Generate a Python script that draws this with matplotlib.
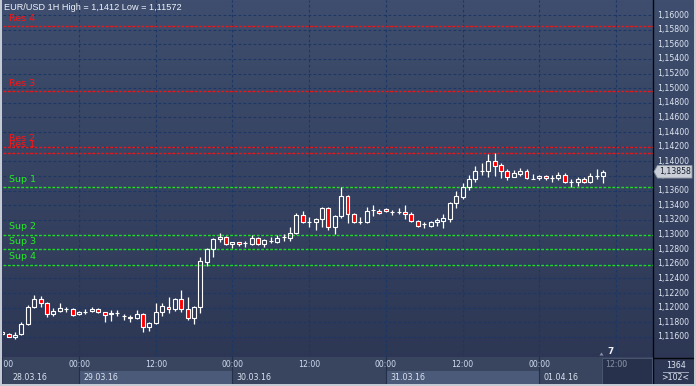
import numpy as np
import matplotlib
matplotlib.use("Agg")
import matplotlib.pyplot as plt
from matplotlib.colors import LinearSegmentedColormap
from matplotlib.patches import Rectangle, Polygon

# ---------------- data ----------------
hours = list(range(-12, 83))  # hours relative to 29.03.16 00:00
opens = [1.11673, 1.11641, 1.11595, 1.11636, 1.11773, 1.12014, 1.12119, 1.12060, 1.11910, 1.11955,
         1.11983, 1.11978, 1.11910, 1.11946, 1.11960, 1.11978, 1.11937, 1.11910, 1.11932, 1.11891,
         1.11878, 1.11864, 1.11910, 1.11732, 1.11787, 1.11946, 1.12014, 1.11978, 1.12115, 1.11978,
         1.11855, 1.12005, 1.12629, 1.12798, 1.12935, 1.12962, 1.12871, 1.12894, 1.12880, 1.12866,
         1.12948, 1.12866, 1.12916, 1.12903, 1.12962, 1.12948, 1.13017, 1.13267, 1.13176, 1.13176,
         1.13208, 1.13358, 1.13098, 1.13253, 1.13527, 1.13281, 1.13176, 1.13176, 1.13335, 1.13326,
         1.13344, 1.13313, 1.13304, 1.13304, 1.13276, 1.13190, 1.13140, 1.13121, 1.13167, 1.13190,
         1.13212, 1.13426, 1.13518, 1.13645, 1.13754, 1.13873, 1.13873, 1.14005, 1.13950, 1.13873,
         1.13791, 1.13827, 1.13868, 1.13759, 1.13768, 1.13800, 1.13777, 1.13768, 1.13814, 1.13723,
         1.13713, 1.13754, 1.13723, 1.13805, 1.13800]
highs = [1.11696, 1.11659, 1.11673, 1.11809, 1.12037, 1.12174, 1.12160, 1.12083, 1.11992, 1.12069,
         1.12014, 1.11992, 1.11960, 1.11978, 1.12005, 1.11996, 1.11946, 1.11969, 1.11969, 1.11910,
         1.11901, 1.11969, 1.11923, 1.11809, 1.12069, 1.12060, 1.12151, 1.12128, 1.12242, 1.12142,
         1.12023, 1.12689, 1.12812, 1.12948, 1.13017, 1.12980, 1.12903, 1.12903, 1.12912, 1.12994,
         1.12962, 1.12939, 1.12962, 1.12994, 1.13003, 1.13108, 1.13299, 1.13322, 1.13244, 1.13221,
         1.13372, 1.13381, 1.13267, 1.13645, 1.13540, 1.13299, 1.13235, 1.13381, 1.13404, 1.13344,
         1.13358, 1.13335, 1.13358, 1.13404, 1.13304, 1.13199, 1.13171, 1.13190, 1.13231, 1.13281,
         1.13449, 1.13600, 1.13709, 1.13814, 1.13937, 1.13982, 1.14101, 1.14119, 1.13982, 1.13891,
         1.13882, 1.13905, 1.13896, 1.13827, 1.13809, 1.13809, 1.13814, 1.13859, 1.13837, 1.13759,
         1.13791, 1.13791, 1.13837, 1.13896, 1.13882]
lows = [1.11627, 1.11595, 1.11572, 1.11623, 1.11764, 1.11992, 1.12005, 1.11869, 1.11887, 1.11946,
        1.11946, 1.11891, 1.11896, 1.11910, 1.11946, 1.11923, 1.11809, 1.11823, 1.11887, 1.11832,
        1.11809, 1.11841, 1.11664, 1.11686, 1.11778, 1.11887, 1.11923, 1.11960, 1.11946, 1.11832,
        1.11773, 1.11932, 1.12570, 1.12698, 1.12903, 1.12853, 1.12812, 1.12843, 1.12834, 1.12853,
        1.12857, 1.12834, 1.12880, 1.12889, 1.12916, 1.12916, 1.13008, 1.13162, 1.13108, 1.13062,
        1.13108, 1.13062, 1.13003, 1.13221, 1.13162, 1.13153, 1.13140, 1.13162, 1.13258, 1.13276,
        1.13313, 1.13267, 1.13276, 1.13208, 1.13176, 1.13108, 1.13085, 1.13108, 1.13117, 1.13085,
        1.13176, 1.13358, 1.13481, 1.13609, 1.13723, 1.13814, 1.13791, 1.13800, 1.13777, 1.13745,
        1.13782, 1.13805, 1.13754, 1.13754, 1.13745, 1.13745, 1.13723, 1.13745, 1.13700, 1.13645,
        1.13668, 1.13709, 1.13700, 1.13759, 1.13709]
closes = [1.11641, 1.11604, 1.11623, 1.11773, 1.12014, 1.12119, 1.12060, 1.11910, 1.11955, 1.11992,
          1.11983, 1.11901, 1.11946, 1.11946, 1.11978, 1.11937, 1.11901, 1.11932, 1.11932, 1.11891,
          1.11855, 1.11910, 1.11732, 1.11787, 1.11946, 1.12023, 1.11978, 1.12115, 1.11983, 1.11855,
          1.12014, 1.12638, 1.12798, 1.12935, 1.12962, 1.12866, 1.12894, 1.12871, 1.12880, 1.12948,
          1.12866, 1.12925, 1.12916, 1.12948, 1.12962, 1.13017, 1.13267, 1.13176, 1.13176, 1.13208,
          1.13358, 1.13098, 1.13253, 1.13527, 1.13276, 1.13167, 1.13176, 1.13322, 1.13335, 1.13290,
          1.13322, 1.13313, 1.13304, 1.13276, 1.13190, 1.13117, 1.13140, 1.13167, 1.13199, 1.13221,
          1.13436, 1.13527, 1.13645, 1.13759, 1.13868, 1.13873, 1.14005, 1.13941, 1.13873, 1.13791,
          1.13841, 1.13868, 1.13768, 1.13759, 1.13800, 1.13768, 1.13777, 1.13814, 1.13713, 1.13723,
          1.13759, 1.13723, 1.13805, 1.13805, 1.13858]

res_names = ["Res 4", "Res 3", "Res 2", "Res 1"]
res_levels = [1.15845, 1.14955, 1.14200, 1.14120]
sup_names = ["Sup 1", "Sup 2", "Sup 3", "Sup 4"]
sup_levels = [1.13645, 1.13000, 1.12800, 1.12590]

price_ticks = [1.116, 1.118, 1.120, 1.122, 1.124, 1.126, 1.128, 1.130, 1.132, 1.134, 1.136, 1.138,
               1.140, 1.142, 1.144, 1.146, 1.148, 1.150, 1.152, 1.154, 1.156, 1.158, 1.160]
time_ticks = [-12, 0, 12, 24, 36, 48, 60, 72, 84]
time_labels = ["12:00", "00:00", "12:00", "00:00", "12:00", "00:00", "12:00", "00:00", "12:00"]
date_starts = [-12, 0, 24, 48, 72]
date_labels = ["28.03.16", "29.03.16", "30.03.16", "31.03.16", "01.04.16"]
title = "EUR/USD 1H High = 1,1412 Low = 1,11572"
last_price_text = "1,13858"

# ---------------- layout ----------------
W, H = 696, 386
PPH = 6.393          # pixels per hour
X0PIX = 79           # pixel of 29.03 00:00
XMIN = (3 - X0PIX) / PPH
XMAX = (653 - X0PIX) / PPH
PPU = 7318.0         # pixels per price unit
YTOP = 1.16 + 15 / PPU
YBOT = 1.16 - 342 / PPU

def rect(x0, y0, x1, y1):
    return [x0 / W, 1 - y1 / H, (x1 - x0) / W, (y1 - y0) / H]

fig = plt.figure(figsize=(W / 100, H / 100), dpi=100)

# background with gradient
bg = fig.add_axes([0, 0, 1, 1])
bg.set_xlim(0, W); bg.set_ylim(H, 0); bg.axis("off")
cmap = LinearSegmentedColormap.from_list("bgc", ["#3f4e6e", "#2c3653"])
bg.imshow(np.linspace(0, 1, 256)[:, None], extent=(0, W, H, 0), cmap=cmap, aspect="auto", zorder=0)

# main axes
ax = fig.add_axes(rect(3, 0, 653, 357))
ax.set_facecolor("none")
ax.set_xlim(XMIN, XMAX)
ax.set_ylim(YBOT, YTOP)
ax.axis("off")

grid_col = "#1b3766"
for p in price_ticks:
    ax.axhline(p, color=grid_col, lw=0.8, ls=(0, (2.5, 2.0)), zorder=1)
for t in time_ticks[1:]:
    ax.axvline(t, color=grid_col, lw=0.8, ls=(0, (2.5, 2.0)), zorder=1)

# resistance / support
lab_x = XMIN + 6 / PPH
for n, lv in zip(res_names, res_levels):
    ax.axhline(lv, color="#f01414", lw=1.0, ls=(0, (2.0, 1.2)), zorder=2)
    ax.annotate(n, xy=(lab_x, lv), xytext=(0, 8), textcoords="offset pixels",
                color="#ff1414", fontsize=6.8, family="DejaVu Sans", va="center", ha="left")
for n, lv in zip(sup_names, sup_levels):
    ax.axhline(lv, color="#1ee01e", lw=1.0, ls=(0, (2.0, 1.2)), zorder=2)
    ax.annotate(n, xy=(lab_x, lv), xytext=(0, 8), textcoords="offset pixels",
                color="#22ee22", fontsize=6.8, family="DejaVu Sans", va="center", ha="left")

# candles
o = np.array(opens); c = np.array(closes); hi = np.array(highs); lo = np.array(lows)
x = np.array(hours, dtype=float)
top = np.maximum(o, c); bot = np.minimum(o, c)
ax.vlines(x, top, hi, color="white", lw=0.9, zorder=3)
ax.vlines(x, lo, bot, color="white", lw=0.9, zorder=3)
face = ["#ff0000" if cc < oo else "none" for oo, cc in zip(o, c)]
ax.bar(x, top - bot, bottom=bot, width=0.62, color=face, edgecolor="white", linewidth=0.8, zorder=4)

# title (figure-level so it sits above the grid)
fig.text(4 / W, 1 - 8 / H, title, color="#eef2fa", fontsize=6.6, family="Liberation Sans",
         va="center", ha="left", zorder=20)

# right price panel
rax = fig.add_axes(rect(653, 0, 696, 357))
rax.set_facecolor("none")
rax.set_xlim(0, 43); rax.set_ylim(YBOT, YTOP); rax.axis("off")
for p in price_ticks:
    rax.text(4, p, f"{p:.5f}".replace(".", ","), color="#dfe6f2", fontsize=5.6,
             family="DejaVu Sans", va="center", ha="left")
lp = closes[-1]
dh = 6.3 / PPU
rax.add_patch(Polygon([(1, lp), (4.5, lp + dh), (39, lp + dh), (39, lp - dh), (4.5, lp - dh)],
                      closed=True, facecolor="#c9ced7", edgecolor="#8d94a0", lw=0.6, zorder=5))
rax.text(6, lp, last_price_text, color="#17202e", fontsize=5.6, family="DejaVu Sans",
         va="center", ha="left", zorder=6)

# bottom time bar
bax = fig.add_axes(rect(3, 357, 653, 384))
bax.set_xlim(XMIN, XMAX); bax.set_ylim(27, 0); bax.axis("off")
bax.add_patch(Rectangle((XMIN, 0), XMAX - XMIN, 27, facecolor="#39455f", edgecolor="none", zorder=0))
for i, d in enumerate(date_starts):
    if i % 2 == 1:
        bax.add_patch(Rectangle((d, 13.5), 24, 13, facecolor="#4b5a78", edgecolor="none", zorder=1))
for d in date_starts[1:]:
    bax.plot([d, d], [0, 27], color="#23304a", lw=0.8, zorder=2)
for t, lab in zip(time_ticks, time_labels):
    col = "#7d889c" if t == 84 else "#cfdcf0"
    bax.text(t, 7.5, lab, color=col, fontsize=5.6, family="DejaVu Sans", ha="center", va="center",
             clip_on=True, zorder=4)
for d, lab in zip(date_starts, date_labels):
    xx = max(d, XMIN + 0.8) + 0.63
    bax.text(xx, 20.2, lab, color="#dbe3f0", fontsize=5.7, family="DejaVu Sans", ha="left",
             va="center", clip_on=True, zorder=4)
bax.add_patch(Rectangle(((602 - X0PIX) / PPH, 1), (652 - 602) / PPH, 25.5, facecolor="#27314b",
                        edgecolor="#4e5a72", lw=0.6, zorder=3))
bax.text(84, 7.5, "12:00", color="#6f7a8f", fontsize=5.6, family="DejaVu Sans", ha="center",
         va="center", zorder=5)

# misc markers near bottom right
fig.text(607 / W, 1 - 352 / H, "7", color="#eef2fa", fontsize=6.4, family="DejaVu Sans",
         ha="left", va="center", weight="bold", zorder=20)
bg.add_patch(Polygon([(599.5, 355.5), (603.5, 355.5), (601.5, 352.5)], closed=True,
                     facecolor="#8a93a5", edgecolor="none"))

# bottom right box
fig.text(675.5 / W, 1 - 365 / H, "1364", color="#dfe6f2", fontsize=5.6, family="DejaVu Sans",
         ha="center", va="center", zorder=20)
fig.text(675.5 / W, 1 - 378 / H, ">102<", color="#dfe6f2", fontsize=5.6, family="DejaVu Sans",
         ha="center", va="center", zorder=20)
bg.plot([663, 688], [371.5, 371.5], color="#9aa4b6", lw=0.7)

# separators and frame
bg.plot([653, 653], [0, 386], color="#05070c", lw=1.0, zorder=8)
bg.plot([3, 696], [357.5, 357.5], color="#05070c", lw=1.0, zorder=8)
bg.add_patch(Rectangle((0, 0), 2.2, 386, facecolor="#c3cad4", edgecolor="none", zorder=9))
bg.add_patch(Rectangle((0, 384), 696, 2, facecolor="#c3cad4", edgecolor="none", zorder=9))
bg.add_patch(Rectangle((694, 0), 2, 386, facecolor="#c3cad4", edgecolor="none", zorder=9))

fig.savefig("out.png", dpi=100)
